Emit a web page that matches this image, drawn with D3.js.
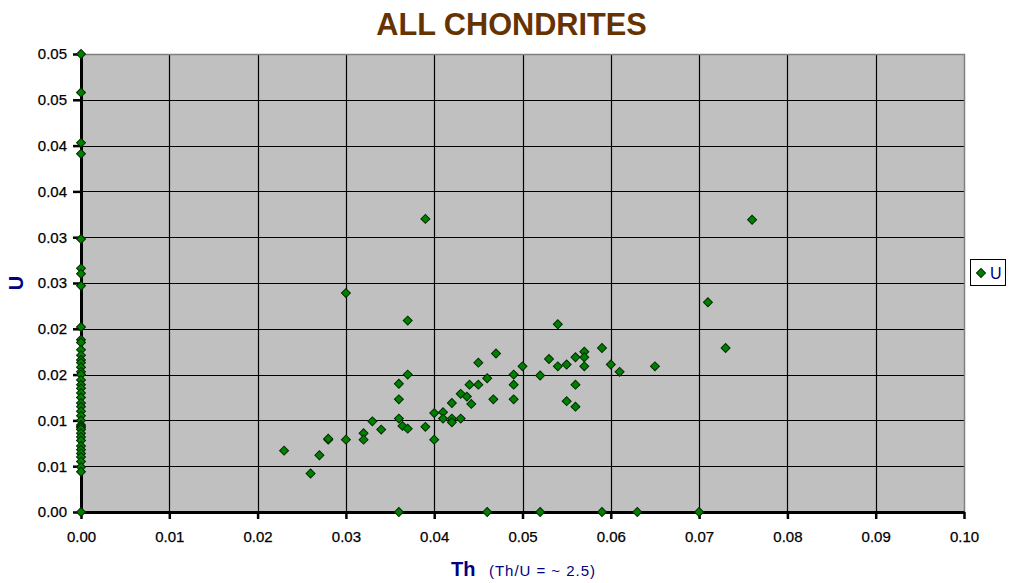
<!DOCTYPE html>
<html><head><meta charset="utf-8">
<script src="https://cdn.jsdelivr.net/npm/d3@7"></script>
<style>body{margin:0;background:#fff}svg{display:block}text{font-family:Arial,"Liberation Sans",sans-serif}</style>
</head><body><svg id="c" width="1011" height="583"></svg>
<script>
// Th values (x) and U values (y)
const thZero = [0,0,0,0,0,0,0,0,0,0,0,0,0,0,0,0,0,0,0,0,0,0,0,0,0,0,0,0,0,0,0,0,0,0,0,0,0,0,0,0,0,0,0];
const uZero = [0.0500,0.0458,0.0403,0.0391,0.0298,0.0266,0.0260,0.0247,0.0202,0.0188,0.0185,0.0177,0.0171,0.0166,0.0163,0.0158,0.0153,0.0150,0.0144,0.0139,0.0135,0.0130,0.0125,0.0119,0.0115,0.0110,0.0105,0.0100,0.0095,0.0093,0.0092,0.0090,0.0086,0.0082,0.0078,0.0072,0.0068,0.0064,0.0060,0.0055,0.0049,0.0044,0.0000];
const thMeasured = [0.023,0.026,0.027,0.028,0.028,0.030,0.030,0.032,0.032,0.033,0.034,0.036,0.036,0.036,0.0364,0.037,0.037,0.037,0.039,0.039,0.040,0.040,0.041,0.041,0.042,0.042,0.042,0.043,0.043,0.0437,0.0442,0.044,0.045,0.045,0.046,0.0467,0.047,0.049,0.049,0.049,0.050,0.052,0.053,0.054,0.054,0.055,0.055,0.056,0.056,0.056,0.057,0.057,0.057,0.059,0.060,0.061,0.065,0.071,0.073,0.076,0.036,0.046,0.052,0.059,0.063,0.070];
const uMeasured = [0.0067,0.0042,0.0062,0.0079,0.0080,0.0079,0.0239,0.0086,0.0079,0.0099,0.0090,0.0140,0.0123,0.0102,0.0094,0.0150,0.0091,0.0209,0.0093,0.0320,0.0108,0.0079,0.0109,0.0102,0.0119,0.0102,0.0098,0.0129,0.0102,0.0126,0.0118,0.0139,0.0139,0.0163,0.0146,0.0123,0.0173,0.0150,0.0139,0.0123,0.0159,0.0149,0.0167,0.0205,0.0159,0.0161,0.0121,0.0169,0.0139,0.0115,0.0175,0.0169,0.0159,0.0179,0.0161,0.0153,0.0159,0.0229,0.0179,0.0319,0,0,0,0,0,0];
const xTicks = [0,0.01,0.02,0.03,0.04,0.05,0.06,0.07,0.08,0.09,0.10];
const xTickLabels = ["0.00","0.01","0.02","0.03","0.04","0.05","0.06","0.07","0.08","0.09","0.10"];
const yTicks = [0,0.005,0.01,0.015,0.02,0.025,0.03,0.035,0.04,0.045,0.05];
const yTickLabels = ["0.00","0.01","0.01","0.02","0.02","0.03","0.03","0.04","0.04","0.05","0.05"];

const points = thZero.map((t,i)=>({th:t,u:uZero[i]}))
  .concat(thMeasured.map((t,i)=>({th:t,u:uMeasured[i]})));

const svg = d3.select("#c");
const x = d3.scaleLinear().domain([0,0.10]).range([81,964]);
const y = d3.scaleLinear().domain([0,0.05]).range([512,54]);

svg.append("rect").attr("x",x(0)).attr("y",y(0.05))
  .attr("width",x(0.10)-x(0)).attr("height",y(0)-y(0.05)).attr("fill","#c0c0c0");

const grid = svg.append("g").attr("stroke","#000").attr("stroke-width",1.2);
grid.selectAll("line.v").data(xTicks.slice(1,-1)).join("line").attr("class","v")
  .attr("x1",d=>Math.round(x(d))+0.5).attr("x2",d=>Math.round(x(d))+0.5)
  .attr("y1",y(0.05)).attr("y2",y(0));
grid.selectAll("line.h").data(yTicks.slice(1,-1)).join("line").attr("class","h")
  .attr("y1",d=>Math.round(y(d))+0.5).attr("y2",d=>Math.round(y(d))+0.5)
  .attr("x1",x(0)).attr("x2",x(0.10));

svg.append("path").attr("d",`M${x(0)},${y(0.05)+0.5}H${x(0.10)+0.5}V${y(0)}`)
  .attr("stroke","#808080").attr("stroke-width",1.5).attr("fill","none");

const xAxis = svg.append("g").attr("transform",`translate(0,${y(0)})`)
  .call(d3.axisBottom(x).tickValues(xTicks).tickFormat((d,i)=>xTickLabels[i])
    .tickSize(7).tickSizeOuter(0).tickPadding(12));
const yAxis = svg.append("g").attr("transform",`translate(${x(0)},0)`)
  .call(d3.axisLeft(y).tickValues(yTicks).tickFormat((d,i)=>yTickLabels[i])
    .tickSize(8).tickSizeOuter(0).tickPadding(6));
[xAxis,yAxis].forEach(g=>{
  g.select(".domain").attr("stroke","#000").attr("stroke-width",3);
  g.selectAll(".tick line").attr("stroke","#000").attr("stroke-width",2.5);
  g.selectAll(".tick text").attr("fill","#000").attr("font-size",15)
    .attr("stroke","#000").attr("stroke-width",0.25)
    .attr("font-family",'Arial,"Liberation Sans",sans-serif');
});

const diamond = d3.symbol().type(d3.symbolSquare).size(40)();
svg.append("g").selectAll("path").data(points).join("path")
  .attr("d",diamond)
  .attr("transform",d=>`translate(${x(d.th)},${y(d.u)}) rotate(45)`)
  .attr("fill","#008000").attr("stroke","#002a00").attr("stroke-width",1);

svg.append("text").attr("x",511.5).attr("y",35).attr("text-anchor","middle")
  .attr("font-size",30.7).attr("font-weight","bold").attr("fill","#663300")
  .text("ALL CHONDRITES");

svg.append("text").attr("transform","translate(16,283) rotate(-90)")
  .attr("text-anchor","middle").attr("dy","0.36em")
  .attr("font-size",20).attr("font-weight","bold").attr("fill","#000080").text("U");

svg.append("text").attr("x",451).attr("y",576)
  .attr("font-size",20).attr("font-weight","bold").attr("fill","#000080").text("Th");
svg.append("text").attr("x",489).attr("y",576)
  .attr("font-size",15).attr("fill","#000080").attr("textLength",106)
  .text("(Th/U = ~ 2.5)");

const leg = svg.append("g");
leg.append("rect").attr("x",970.5).attr("y",259.5).attr("width",35).attr("height",26)
  .attr("fill","#fff").attr("stroke","#000").attr("stroke-width",1);
leg.append("path").attr("d",diamond).attr("transform","translate(981,273) rotate(45)")
  .attr("fill","#008000").attr("stroke","#002a00").attr("stroke-width",1);
leg.append("text").attr("x",990).attr("y",279).attr("font-size",16)
  .attr("fill","#000080").text("U");
</script></body></html>
